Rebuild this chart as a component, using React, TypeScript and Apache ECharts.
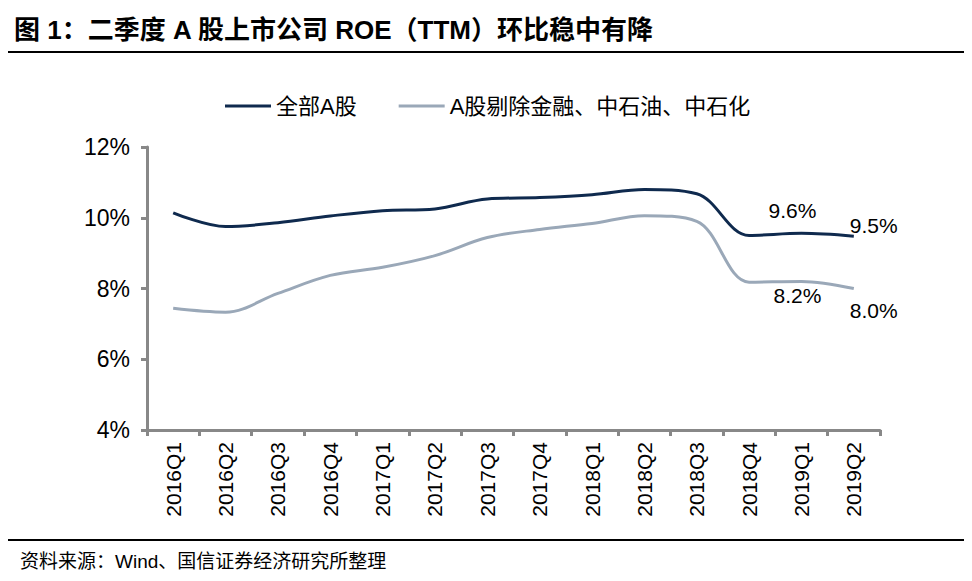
import React, { useEffect, useRef } from "react";
import * as echarts from "echarts";

const categories = ["2016Q1","2016Q2","2016Q3","2016Q4","2017Q1","2017Q2","2017Q3","2017Q4","2018Q1","2018Q2","2018Q3","2018Q4","2019Q1","2019Q2"];
const allA = [10.14, 9.75, 9.86, 10.05, 10.2, 10.25, 10.53, 10.57, 10.65, 10.8, 10.68, 9.5, 9.56, 9.48];
const exFin = [7.44, 7.33, 7.86, 8.37, 8.6, 8.93, 9.44, 9.67, 9.84, 10.06, 9.9, 8.18, 8.2, 8.0];
const yTicks = [4, 6, 8, 10, 12];
const seriesNames = ["全部A股", "A股剔除金融、中石油、中石化"];
const title = "图 1：二季度 A 股上市公司 ROE（TTM）环比稳中有降";
const source = "资料来源：Wind、国信证券经济研究所整理";

const FONT = "Liberation Sans, Arial, Noto Sans CJK SC, sans-serif";
const DARK = "#0f2a4e";
const LIGHT = "#9aa8b8";

export default function App() {
  const ref = useRef<HTMLDivElement>(null);
  useEffect(() => {
    const chart = echarts.init(ref.current!, null, { renderer: "svg" });
    const withLabels = (arr: number[], labels: Record<number, number[]>) =>
      arr.map((v, i) => {
        const item: any = { value: v };
        if (labels[i]) {
          item.label = {
            show: true,
            position: labels[i],
            formatter: (p: any) => Number(p.value).toFixed(1) + "%",
            fontSize: 21,
            color: "#000",
            fontFamily: FONT,
          };
        }
        return item;
      });
    const allData = withLabels(allA, { 12: [-33, -33], 13: [-4, -21] });
    const exData = withLabels(exFin, { 12: [-28, 4], 13: [-4, 11] });

    chart.setOption({
      animation: false,
      backgroundColor: "#fff",
      textStyle: { fontFamily: FONT },
      graphic: [
        { type: "line", shape: { x1: 0, y1: 6, x2: 972, y2: 6 }, style: { stroke: "#000", lineWidth: 2 } },
        { type: "text", left: 14, top: 17, style: { text: title, fontSize: 26, fontWeight: "bold", fill: "#000", fontFamily: FONT } },
        { type: "line", shape: { x1: 0, y1: 52, x2: 972, y2: 52 }, style: { stroke: "#000", lineWidth: 2 } },
        { type: "line", shape: { x1: 0, y1: 540, x2: 972, y2: 540 }, style: { stroke: "#000", lineWidth: 2 } },
        { type: "text", left: 20, top: 552, style: { text: source, fontSize: 19, fill: "#000", fontFamily: FONT } },
      ],
      legend: {
        top: 90,
        left: 220,
        icon: "rect",
        itemWidth: 46,
        itemHeight: 3,
        itemGap: 42,
        textStyle: { fontSize: 22, color: "#000", fontFamily: FONT },
        data: [
          { name: seriesNames[0], itemStyle: { color: DARK } },
          { name: seriesNames[1], itemStyle: { color: LIGHT } },
        ],
      },
      grid: { left: 147, right: 92, top: 147, bottom: 151 },
      xAxis: {
        type: "category",
        data: categories,
        boundaryGap: true,
        axisLine: { lineStyle: { color: "#888", width: 3 } },
        axisTick: { show: true, length: 6, lineStyle: { color: "#888", width: 3 } },
        axisLabel: { rotate: 90, fontSize: 21, color: "#000", margin: 12, fontFamily: FONT },
      },
      yAxis: {
        type: "value",
        min: yTicks[0],
        max: yTicks[yTicks.length - 1],
        interval: 2,
        splitLine: { show: false },
        axisLine: { show: true, lineStyle: { color: "#888", width: 3 } },
        axisTick: { show: true, length: 6, lineStyle: { color: "#888", width: 3 } },
        axisLabel: { formatter: "{value}%", fontSize: 23, color: "#000", margin: 17, fontFamily: FONT },
      },
      series: [
        {
          name: seriesNames[0],
          type: "line",
          smooth: 0.35,
          showSymbol: true,
          symbol: "circle",
          symbolSize: 0,
          lineStyle: { color: DARK, width: 3 },
          itemStyle: { color: DARK },
          data: allData,
        },
        {
          name: seriesNames[1],
          type: "line",
          smooth: 0.35,
          showSymbol: true,
          symbol: "circle",
          symbolSize: 0,
          lineStyle: { color: LIGHT, width: 3 },
          itemStyle: { color: LIGHT },
          data: exData,
        },
      ],
    });
    return () => chart.dispose();
  }, []);
  return <div ref={ref} style={{ width: 972, height: 581, margin: -8 }} />;
}
